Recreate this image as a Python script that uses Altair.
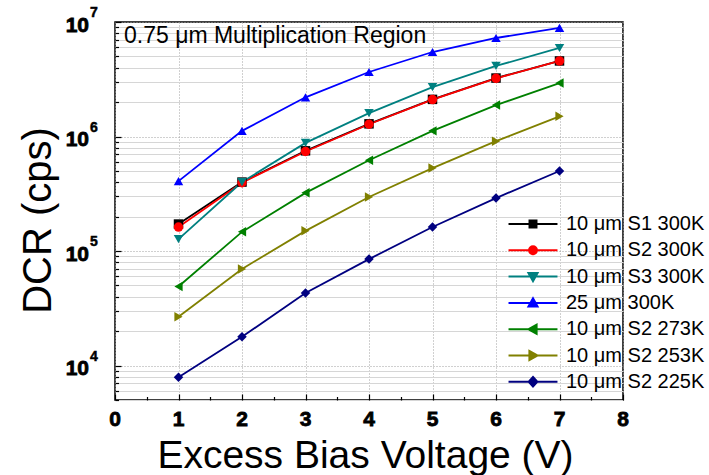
import altair as alt
import pandas as pd

FONT = "Arial"

voltage = [1, 2, 3, 4, 5, 6, 7]
series_names = ["10 μm S1 300K", "10 μm S2 300K", "10 μm S3 300K", "25 μm 300K",
                "10 μm S2 273K", "10 μm S2 253K", "10 μm S2 225K"]
dcr_s1_300 = [1.72e5, 4.0e5, 7.5e5, 1.29e6, 2.11e6, 3.24e6, 4.57e6]
dcr_s2_300 = [1.62e5, 3.95e5, 7.4e5, 1.28e6, 2.10e6, 3.22e6, 4.57e6]
dcr_s3_300 = [1.27e5, 4.0e5, 8.8e5, 1.60e6, 2.70e6, 4.13e6, 5.93e6]
dcr_25_300 = [4.08e5, 1.12e6, 2.2e6, 3.66e6, 5.47e6, 7.25e6, 8.87e6]
dcr_s2_273 = [4.9e4, 1.47e5, 3.22e5, 6.2e5, 1.12e6, 1.88e6, 2.93e6]
dcr_s2_253 = [2.67e4, 6.97e4, 1.5e5, 2.96e5, 5.3e5, 9.1e5, 1.5e6]
dcr_s2_225 = [7.9e3, 1.78e4, 4.3e4, 8.5e4, 1.62e5, 2.9e5, 5.0e5]

colors = ["#000000", "#ff0000", "#008080", "#0000ff", "#008000", "#808000", "#000080"]
marker_shapes = ["square", "circle", "triangle-down", "triangle-up",
                 "triangle-left", "triangle-right", "diamond"]

x_ticks = [0, 1, 2, 3, 4, 5, 6, 7, 8]
x_tick_labels = ["0", "1", "2", "3", "4", "5", "6", "7", "8"]
x_minor = [0.5, 1.5, 2.5, 3.5, 4.5, 5.5, 6.5, 7.5]
y_major = [1e4, 1e5, 1e6, 1e7]
y_label_base = ["10", "10", "10", "10"]
y_label_exp = ["4", "5", "6", "7"]
y_minor = [m * 10 ** e for e in (3, 4, 5, 6) for m in range(2, 10) if 5e3 <= m * 10 ** e <= 1e7]

annotation = "0.75 μm Multiplication Region"

all_series = [dcr_s1_300, dcr_s2_300, dcr_s3_300, dcr_25_300, dcr_s2_273, dcr_s2_253, dcr_s2_225]
rows = []
for name, vals in zip(series_names, all_series):
    for v, d in zip(voltage, vals):
        rows.append({"series": name, "V": v, "DCR": d})
df = pd.DataFrame(rows)
x_lab_df = pd.DataFrame({"V": x_ticks, "label": x_tick_labels})
y_lab_df = pd.DataFrame({"DCR": y_major, "base": y_label_base, "exp": y_label_exp})

# legend symbols: line + marker custom paths
line_path = "M-2.04,0L2.04,0"
legend_markers = [
    "M-0.29,-0.29L0.29,-0.29L0.29,0.29L-0.29,0.29Z",
    "M-0.33,0A0.33,0.33,0,1,0,0.33,0A0.33,0.33,0,1,0,-0.33,0Z",
    "M-0.38,-0.3L0.38,-0.3L0,0.38Z",
    "M-0.38,0.3L0.38,0.3L0,-0.38Z",
    "M0.3,-0.38L0.3,0.38L-0.38,0Z",
    "M-0.3,-0.38L-0.3,0.38L0.38,0Z",
    "M0,-0.4L0.36,0L0,0.4L-0.36,0Z",
]
legend_paths = [line_path + m for m in legend_markers]

W, H = 508, 378
xscale = alt.Scale(domain=[0, 8], nice=False, zero=False)
yscale = alt.Scale(type="log", domain=[5000, 1e7], nice=False)
color_scale = alt.Scale(domain=series_names, range=colors)

# x axes
ax_x_main = alt.Axis(orient="bottom", values=x_ticks, labels=False, ticks=False, tickSize=0,
                     domain=False, grid=True, gridColor="#a0a0a0", gridDash=[1, 2],
                     gridWidth=1, title="Excess Bias Voltage (V)", titleFont=FONT,
                     titleFontSize=39, titleFontWeight="normal", titleColor="black",
                     titleX=250, titleY=67, titleBaseline="alphabetic")
ax_x_major = alt.Axis(orient="top", offset=-H, values=x_ticks, labels=False, ticks=True,
                      tickSize=6, tickColor="black", tickWidth=1.2, domain=False,
                      grid=False, title=None)
ax_x_minor = alt.Axis(orient="top", offset=-H, values=x_minor, labels=False, ticks=True,
                      tickSize=3.5, tickColor="black", tickWidth=1.2, domain=False,
                      grid=False, title=None)

# y axes
ax_y_main = alt.Axis(orient="left", values=y_major, labels=False, ticks=False, tickSize=0,
                     domain=False, grid=True, gridColor="#a0a0a0", gridDash=[1, 2],
                     gridWidth=1, title="DCR (cps)", titleFont=FONT, titleFontSize=40,
                     titleFontWeight="normal", titleColor="black", titleAngle=270,
                     titleX=-65, titleY=198, titleBaseline="alphabetic", titleAlign="center")
ax_y_minor_grid = alt.Axis(orient="left", values=y_minor, labels=False, ticks=False,
                           tickSize=0, domain=False, grid=True, gridColor="#d6d6d6",
                           gridWidth=1, title=None)
ax_y_major_ticks = alt.Axis(orient="right", offset=-W, values=y_major, labels=False,
                            ticks=True, tickSize=6, tickColor="black", tickWidth=1.2,
                            domain=False, grid=False, title=None)
ax_y_minor_ticks = alt.Axis(orient="right", offset=-W, values=y_minor, labels=False,
                            ticks=True, tickSize=3.5, tickColor="black", tickWidth=1.2,
                            domain=False, grid=False, title=None)

base = alt.Chart(df)

minor_grid = base.mark_point(opacity=0).encode(
    x=alt.X("V:Q", scale=xscale, axis=None),
    y=alt.Y("DCR:Q", scale=yscale, axis=ax_y_minor_grid),
)

lines = base.mark_line(strokeWidth=1.8).encode(
    x=alt.X("V:Q", scale=xscale, axis=ax_x_main),
    y=alt.Y("DCR:Q", scale=yscale, axis=ax_y_main),
    color=alt.Color("series:N", scale=color_scale, legend=None),
    order=alt.Order("V:Q"),
)

points = base.mark_point(filled=True, size=90, opacity=1).encode(
    x=alt.X("V:Q", scale=xscale, axis=ax_x_major),
    y=alt.Y("DCR:Q", scale=yscale, axis=ax_y_major_ticks),
    color=alt.Color("series:N", scale=color_scale, legend=None),
    shape=alt.Shape("series:N", scale=alt.Scale(domain=series_names, range=marker_shapes),
                    legend=None),
)

minor_ticks = base.mark_point(opacity=0).encode(
    x=alt.X("V:Q", scale=xscale, axis=ax_x_minor),
    y=alt.Y("DCR:Q", scale=yscale, axis=ax_y_minor_ticks),
)

# tick labels as heavy bold text
x_labels = alt.Chart(x_lab_df).mark_text(
    font="Liberation Sans", fontWeight="bold", fontSize=21, color="black",
    stroke="black", strokeWidth=0.8, align="center", baseline="middle"
).encode(x=alt.X("V:Q", scale=xscale, axis=None), y=alt.value(H + 20), text="label:N")

y_labels = alt.Chart(y_lab_df).mark_text(
    font="Liberation Sans", fontWeight="bold", fontSize=21, color="black",
    stroke="black", strokeWidth=0.8, align="right", baseline="middle", dy=3.5
).encode(x=alt.value(-26), y=alt.Y("DCR:Q", scale=yscale, axis=None), text="base:N")

y_exps = alt.Chart(y_lab_df).mark_text(
    font="Liberation Sans", fontWeight="bold", fontSize=14, color="black",
    stroke="black", strokeWidth=0.5, align="left", baseline="middle", dy=-9
).encode(x=alt.value(-25), y=alt.Y("DCR:Q", scale=yscale, axis=None), text="exp:N")

legend_cfg = dict(orient="none", legendX=405, legendY=189, title=None, symbolSize=576,
                  symbolStrokeWidth=2, symbolOpacity=1, symbolFillColor="black",
                  labelFont=FONT, labelFontSize=20, labelColor="black",
                  labelOffset=20, rowPadding=3.3, padding=0, labelLimit=300)

legend_layer = base.mark_point(filled=True, opacity=0, strokeWidth=2).encode(
    x=alt.X("V:Q", scale=xscale, axis=None),
    y=alt.Y("DCR:Q", scale=yscale, axis=None),
    fill=alt.Fill("series:N", scale=alt.Scale(domain=series_names, range=colors),
                  legend=alt.Legend(**legend_cfg)),
    stroke=alt.Stroke("series:N", scale=alt.Scale(domain=series_names, range=colors),
                      legend=alt.Legend(**legend_cfg)),
    shape=alt.Shape("series:N", scale=alt.Scale(domain=series_names, range=legend_paths),
                    legend=alt.Legend(**legend_cfg)),
)

note = alt.Chart(pd.DataFrame({"t": [annotation]})).mark_text(
    align="left", baseline="alphabetic", font=FONT, fontSize=23, color="black"
).encode(x=alt.value(9), y=alt.value(21), text="t:N")

chart = alt.layer(minor_grid, lines, points, minor_ticks, x_labels, y_labels, y_exps,
                  legend_layer, note).resolve_axis(
    x="independent", y="independent"
).resolve_scale(
    shape="independent", fill="independent", stroke="independent"
).properties(
    width=W, height=H,
    autosize=alt.AutoSizeParams(type="none"),
    padding={"left": 115, "top": 22, "right": 86, "bottom": 75},
    background="white",
).configure_view(stroke="black", strokeWidth=1.5)

chart.save("out.html", embed_options={"renderer": "svg", "actions": False})
